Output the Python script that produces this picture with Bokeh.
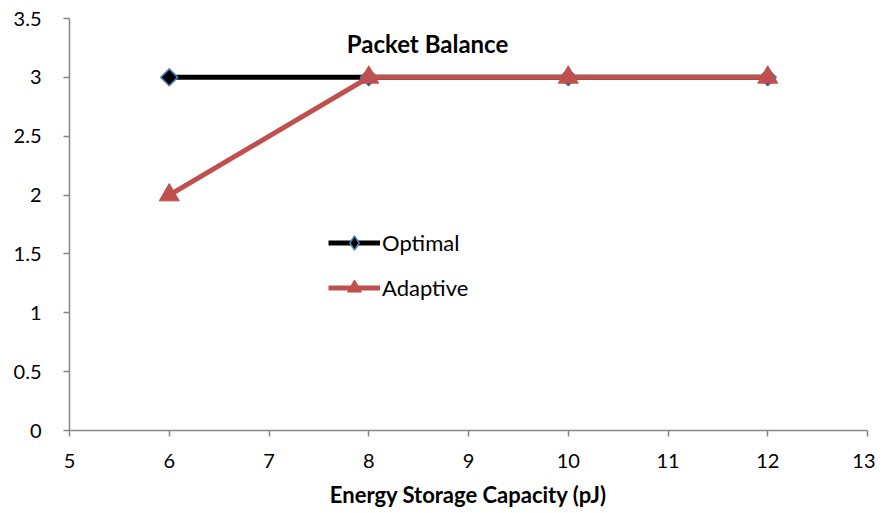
from bokeh.plotting import figure
from bokeh.models import Range1d, FixedTicker, Label, Legend, LegendItem
from bokeh.embed import file_html
from bokeh.resources import INLINE
import math

x_vals = [6, 8, 10, 12]
optimal = [3, 3, 3, 3]
adaptive = [2, 3, 3, 3]
x_ticks = [5, 6, 7, 8, 9, 10, 11, 12, 13]
y_ticks = [0, 0.5, 1, 1.5, 2, 2.5, 3, 3.5]

FONT = "Lato"
AXIS_COLOR = "#868686"

p = figure(width=875, height=505, output_backend="svg", toolbar_location=None,
           x_range=Range1d(5, 13), y_range=Range1d(0, 3.5),
           min_border_left=69, min_border_top=18, min_border_right=8, min_border_bottom=75)
p.frame_width = 798
p.frame_height = 412
p.outline_line_color = None
p.xgrid.grid_line_color = None
p.ygrid.grid_line_color = None

for ax in (p.xaxis[0], p.yaxis[0]):
    ax.axis_line_color = AXIS_COLOR
    ax.axis_line_width = 1.5
    ax.major_tick_line_color = AXIS_COLOR
    ax.major_tick_line_width = 1.5
    ax.major_tick_out = 6
    ax.major_tick_in = 0
    ax.minor_tick_line_color = None
    ax.major_label_text_font = FONT
    ax.major_label_text_font_size = "20px"
    ax.major_label_text_color = "#000000"

p.xaxis[0].ticker = FixedTicker(ticks=x_ticks)
p.yaxis[0].ticker = FixedTicker(ticks=y_ticks)
p.xaxis[0].major_label_standoff = 17
p.yaxis[0].major_label_standoff = 22
p.xaxis[0].axis_label = "Energy Storage Capacity (pJ)"
p.xaxis[0].axis_label_text_font = FONT
p.xaxis[0].axis_label_text_font_style = "bold"
p.xaxis[0].axis_label_text_font_size = "22px"
p.xaxis[0].axis_label_text_color = "#000000"
p.xaxis[0].axis_label_standoff = 10

l1 = p.line(x_vals, optimal, line_color="#000000", line_width=5)
# diamond used for the legend swatch (hidden beneath the rotated squares in the plot)
leg_m1 = p.scatter(x_vals, optimal, marker="diamond", size=12,
                   fill_color="#000000", line_color="#4a7ebb", line_width=1.5)
m1 = p.scatter(x_vals, optimal, marker="square", size=12, angle=math.pi / 4,
               fill_color="#000000", line_color="#4a7ebb", line_width=1.5)
l2 = p.line(x_vals, adaptive, line_color="#c0504d", line_width=5)
m2 = p.scatter(x_vals, adaptive, marker="triangle", size=20, fill_color="#c0504d",
               line_color="#c0504d")

legend = Legend(items=[LegendItem(label="Optimal", renderers=[l1, leg_m1]),
                       LegendItem(label="Adaptive", renderers=[l2, m2])],
                location=(259, 125), border_line_color=None, background_fill_alpha=0,
                glyph_width=52, glyph_height=35, spacing=10, label_standoff=2,
                label_text_font=FONT, label_text_font_size="22px",
                label_text_color="#000000", padding=0, margin=0)
p.add_layout(legend, "center")

title = Label(x=358, y=387, x_units="screen", y_units="screen", text="Packet Balance",
              text_font=FONT, text_font_style="bold", text_font_size="24px",
              text_color="#000000", text_align="center", text_baseline="middle")
p.add_layout(title)

open("out.html", "w").write(file_html(p, INLINE))
